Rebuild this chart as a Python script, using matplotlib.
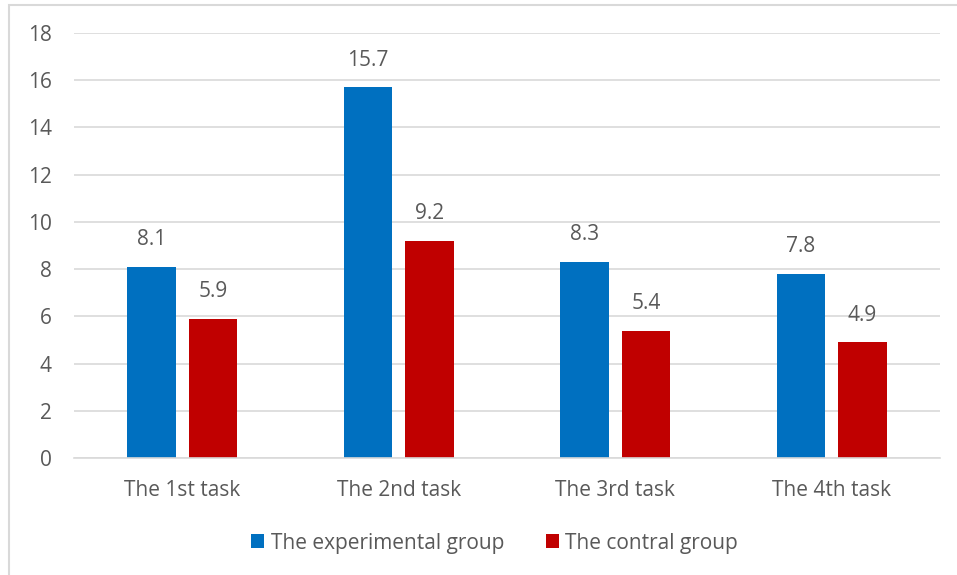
import matplotlib.pyplot as plt
import numpy as np
from matplotlib.patches import Rectangle

categories = ['The 1st task', 'The 2nd task', 'The 3rd task', 'The 4th task']
experimental = [8.1, 15.7, 8.3, 7.8]
control = [5.9, 9.2, 5.4, 4.9]
series_names = ['The experimental group', 'The contral group']

BLUE = '#0070C0'
RED = '#C00000'
TEXT = '#595959'
GRID = '#D9D9D9'

plt.rcParams['font.family'] = ['Open Sans', 'DejaVu Sans']

fig = plt.figure(figsize=(9.57, 5.75), dpi=100)
fig.patches.append(Rectangle((9 / 957, -0.01), 1.0, 1.0 - 5 / 575 + 0.01,
                             transform=fig.transFigure, fill=False,
                             edgecolor=GRID, linewidth=1.5))
ax = fig.add_axes([74 / 957, 117 / 575, 866 / 957, 425 / 575])

x = np.arange(len(categories))
w = 0.222
b1 = ax.bar(x - 0.142, experimental, w, color=BLUE, label=series_names[0])
b2 = ax.bar(x + 0.142, control, w, color=RED, label=series_names[1])
for bars, vals in ((b1, experimental), (b2, control)):
    for rect, v in zip(bars, vals):
        ax.text(rect.get_x() + rect.get_width() / 2, v + 1.15, '%.1f' % v,
                ha='center', va='center', fontsize=15, color=TEXT)

ax.set_xlim(-0.5, 3.5)
ax.set_ylim(0, 18)
ax.set_yticks(range(0, 19, 2))
ax.set_xticks(x)
ax.set_xticklabels(categories)
ax.yaxis.grid(True, color=GRID, linewidth=1.2)
ax.set_axisbelow(True)
for s in ['top', 'right', 'left']:
    ax.spines[s].set_visible(False)
ax.spines['bottom'].set_color(GRID)
ax.spines['bottom'].set_linewidth(1.2)
ax.tick_params(axis='both', length=0, labelsize=15, colors=TEXT)
ax.tick_params(axis='y', pad=16)
ax.tick_params(axis='x', pad=16)

fig.legend(handles=[b1, b2], loc='center',
           bbox_to_anchor=(494.5 / 957, 32 / 575),
           ncol=2, frameon=False, fontsize=15, handlelength=0.65,
           handleheight=0.65, handletextpad=0.3, columnspacing=2.0,
           labelcolor=TEXT)

fig.savefig('out.png', dpi=100)
